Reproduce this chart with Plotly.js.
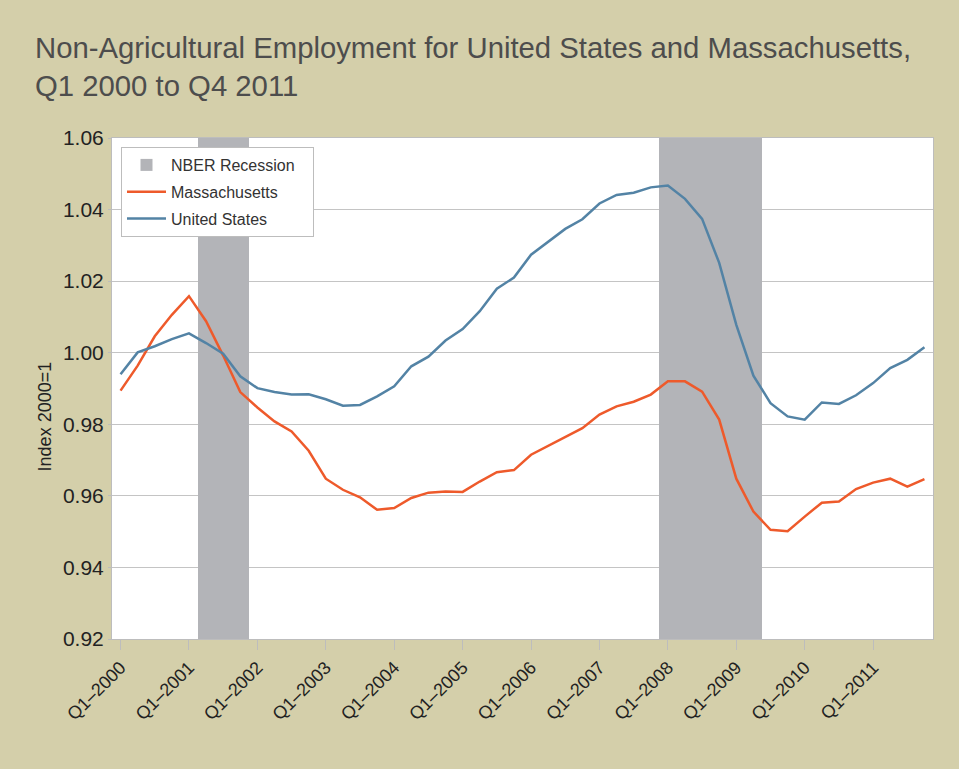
<!DOCTYPE html>
<html>
<head>
<meta charset="utf-8">
<script src="https://cdn.plot.ly/plotly-3.0.1.min.js"></script>
<style>html,body{margin:0;padding:0;background:#d4cfaa;}#chart{width:959px;height:769px;}</style>
</head>
<body>
<div id="chart"></div>
<script>
const years = [2000,2001,2002,2003,2004,2005,2006,2007,2008,2009,2010,2011];
const quarters = [];
years.forEach(y => { for (let q = 1; q <= 4; q++) quarters.push('Q' + q + '\u2013' + y); });
const yearTicks = years.map(y => 'Q1\u2013' + y);

const usValues = [
  0.9940, 1.0001, 1.0018, 1.0038, 1.0054, 1.0027, 0.9997, 0.9934,
  0.9901, 0.9890, 0.9883, 0.9884, 0.9870, 0.9852, 0.9854, 0.9878,
  0.9906, 0.9962, 0.9989, 1.0034, 1.0066, 1.0116, 1.0179, 1.0210,
  1.0274, 1.0311, 1.0346, 1.0373, 1.0417, 1.0441, 1.0447, 1.0462,
  1.0467, 1.0430, 1.0374, 1.0251, 1.0078, 0.9936, 0.9859, 0.9822,
  0.9813, 0.9861, 0.9857, 0.9881, 0.9915, 0.9957, 0.9980, 1.0015
];
const maValues = [
  0.9894, 0.9964, 1.0046, 1.0106, 1.0158, 1.0088, 0.9992, 0.9890,
  0.9847, 0.9808, 0.9780, 0.9726, 0.9648, 0.9617, 0.9596, 0.9561,
  0.9566, 0.9594, 0.9609, 0.9612, 0.9611, 0.9640, 0.9666, 0.9672,
  0.9715, 0.9740, 0.9766, 0.9789, 0.9827, 0.9850, 0.9863, 0.9883,
  0.9920, 0.9920, 0.9891, 0.9813, 0.9648, 0.9556, 0.9505, 0.9501,
  0.9542, 0.9581, 0.9584, 0.9619, 0.9637, 0.9648, 0.9626, 0.9647
];
const recessionQuarters = [
  'Q2\u20132001', 'Q3\u20132001', 'Q4\u20132001',
  'Q1\u20132008', 'Q2\u20132008', 'Q3\u20132008', 'Q4\u20132008', 'Q1\u20132009', 'Q2\u20132009'
];
const yMin = 0.92, yMax = 1.06;
const pad = '\u00a0\u00a0\u00a0';

const traces = [
  {
    type: 'bar', name: 'NBER Recession' + pad, legendgroup: 'g1',
    x: recessionQuarters,
    y: recessionQuarters.map(() => yMax - yMin),
    base: recessionQuarters.map(() => yMin),
    width: 1,
    marker: {color: '#b3b4b8', line: {width: 0}},
    hoverinfo: 'skip'
  },
  {
    type: 'scatter', mode: 'lines', name: 'Massachusetts', legendgroup: 'g2',
    x: quarters, y: maValues,
    line: {color: '#ee5a2b', width: 2.5}
  },
  {
    type: 'scatter', mode: 'lines', name: 'United States', legendgroup: 'g3',
    x: quarters, y: usValues,
    line: {color: '#5383a5', width: 2.5}
  }
];

const layout = {
  width: 959, height: 769,
  paper_bgcolor: '#d4cfaa', plot_bgcolor: '#ffffff',
  margin: {l: 112, r: 26, t: 138, b: 130},
  bargap: 0,
  showlegend: true,
  font: {family: 'Liberation Sans, Arial, sans-serif', color: '#222222'},
  title: {
    text: 'Non-Agricultural Employment for United States and Massachusetts,<br>Q1 2000 to Q4 2011',
    font: {size: 29.3, color: '#4d4d4d', family: 'Liberation Sans, Arial, sans-serif'},
    xref: 'container', x: 35 / 959, xanchor: 'left',
    yref: 'container', y: 1 - 58 / 769, yanchor: 'top'
  },
  xaxis: {
    type: 'category',
    categoryorder: 'array', categoryarray: quarters,
    range: [-0.5, 47.5],
    tickmode: 'array', tickvals: yearTicks, ticktext: yearTicks,
    tickangle: -45,
    ticks: 'outside', ticklen: 10, tickcolor: '#bdbdbd',
    tickfont: {size: 18, color: '#222222'},
    showgrid: false, zeroline: false,
    showline: true, linecolor: '#bdbdbd', linewidth: 1, mirror: true
  },
  yaxis: {
    range: [yMin, yMax],
    tickvals: [0.92, 0.94, 0.96, 0.98, 1.00, 1.02, 1.04, 1.06],
    tickformat: '.2f',
    ticks: 'outside', ticklen: 3, tickcolor: '#bdbdbd',
    tickfont: {size: 21, color: '#222222'},
    showgrid: true, gridcolor: '#c4c4c4', gridwidth: 1,
    zeroline: false,
    showline: true, linecolor: '#bdbdbd', linewidth: 1, mirror: true
  },
  legend: {
    x: 9 / 821, y: 1 - 9 / 501, xanchor: 'left', yanchor: 'top',
    bgcolor: '#ffffff', bordercolor: '#bdbdbd', borderwidth: 1,
    itemwidth: 39, tracegroupgap: 3,
    font: {size: 16, color: '#333333'}
  },
  annotations: [{
    text: 'Index 2000=1', textangle: -90,
    xref: 'paper', yref: 'paper',
    x: (44.7 - 112) / 821, y: (639 - 416.7) / 501,
    xanchor: 'center', yanchor: 'middle', showarrow: false,
    font: {size: 18, color: '#222222'}
  }]
};

Plotly.newPlot('chart', traces, layout, {displayModeBar: false, staticPlot: true});
</script>
</body>
</html>
